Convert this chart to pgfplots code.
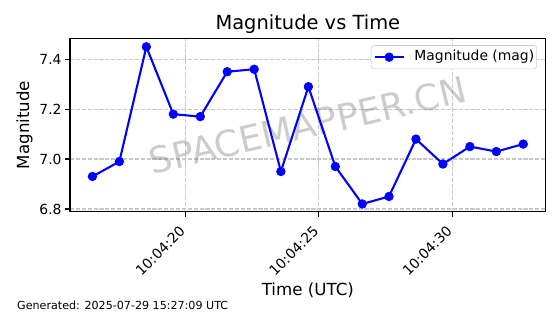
\documentclass[border=0pt]{standalone}
\usepackage{fontspec}
\setmainfont{DejaVu Sans}
\usepackage{pgfplots}
\pgfplotsset{compat=1.18}
\definecolor{gridgray}{RGB}{200,200,200}
\definecolor{mplblue}{RGB}{0,0,255}

\begin{document}
\begin{tikzpicture}
\path (0,0) rectangle (403.2bp,226.08bp);
\begin{axis}[
    set layers,
    at={(50.4bp,73.66bp)}, anchor=south west,
    width=342.5bp, height=124.85bp, scale only axis,
    xmin=15.68, xmax=33.50,
    ymin=6.789, ymax=7.484,
    xtick={20,25,30},
    xticklabels={10:04:20,10:04:25,10:04:30},
    ytick={6.8,7.0,7.2,7.4},
    y tick label style={/pgf/number format/fixed, /pgf/number format/fixed zerofill, /pgf/number format/precision=1},
    /pgf/number format/assume math mode=true,
    tick align=outside,
    major tick length=3.5bp,
    every tick/.style={black, line width=0.8bp},
    axis line style={line width=0.8bp},
    xtick pos=bottom, ytick pos=left,
    ticklabel style={font=\fontsize{10bp}{12bp}\selectfont, inner sep=0pt},
    yticklabel style={anchor=east, xshift=-2.4bp},
    xticklabel style={anchor=north east, text height=7.6bp, text depth=2.4bp,
        xshift=-5bp, yshift=-5.8bp, rotate=45},
    grid=major,
    major grid style={gridgray, line width=0.8bp, dash pattern=on 2.96bp off 1.28bp},
    title={Magnitude vs Time},
    title style={at={(0.5,1)}, anchor=base, yshift=0bp, inner sep=0pt, font=\fontsize{14bp}{17bp}\selectfont},
    xlabel={Time (UTC)},
    xlabel style={at={(0.5,0)}, anchor=base, yshift=-60bp, inner sep=0pt, font=\fontsize{12bp}{14bp}\selectfont},
    ylabel={Magnitude},
    ylabel style={at={(0,0.5)}, anchor=base, yshift=29.5bp, inner sep=0pt, font=\fontsize{12bp}{14bp}\selectfont},
    legend style={at={(1,1)}, anchor=north east, xshift=-6.3bp, yshift=-5bp,
        draw=black!20, rounded corners=2bp, fill=white,
        inner xsep=1.8bp, inner ysep=3.4bp,
        font=\fontsize{10bp}{12bp}\selectfont,
        nodes={inner sep=0pt, text height=7.6bp, text depth=2.4bp},
        /tikz/every even column/.append style={column sep=0pt},
        /tikz/every odd column/.append style={column sep=7bp}},
    legend cell align=left,
    legend image code/.code={%
        \draw[mark repeat=2, mark phase=2] plot coordinates {(0cm,0cm) (0.3687cm,0cm) (0.7373cm,0cm)};},
]
\node[on layer=pre main, rotate=13, text=gray, text opacity=0.4,
      font=\fontsize{26bp}{31bp}\selectfont]
      at (axis description cs:0.5,0.5) {SPACEMAPPER.CN};

\addplot[color=mplblue, line width=1.5bp, mark=*, mark size=3.1bp,
         mark options={solid, fill=mplblue, draw=mplblue, line width=0.5bp}]
    coordinates {
    (16.52,6.93) (17.53,6.99) (18.54,7.45) (19.55,7.18) (20.56,7.17)
    (21.57,7.35) (22.58,7.36) (23.58,6.95) (24.61,7.29) (25.62,6.97)
    (26.63,6.82) (27.63,6.85) (28.64,7.08) (29.65,6.98) (30.66,7.05)
    (31.65,7.03) (32.66,7.06)
    };
\addlegendentry{Magnitude (mag)}
\end{axis}
\node[anchor=base west, inner sep=0pt, font=\fontsize{8bp}{10bp}\selectfont]
    at (12.2bp,3.6bp) {Generated: 2025-07-29 15:27:09 UTC};
\end{tikzpicture}
\end{document}
